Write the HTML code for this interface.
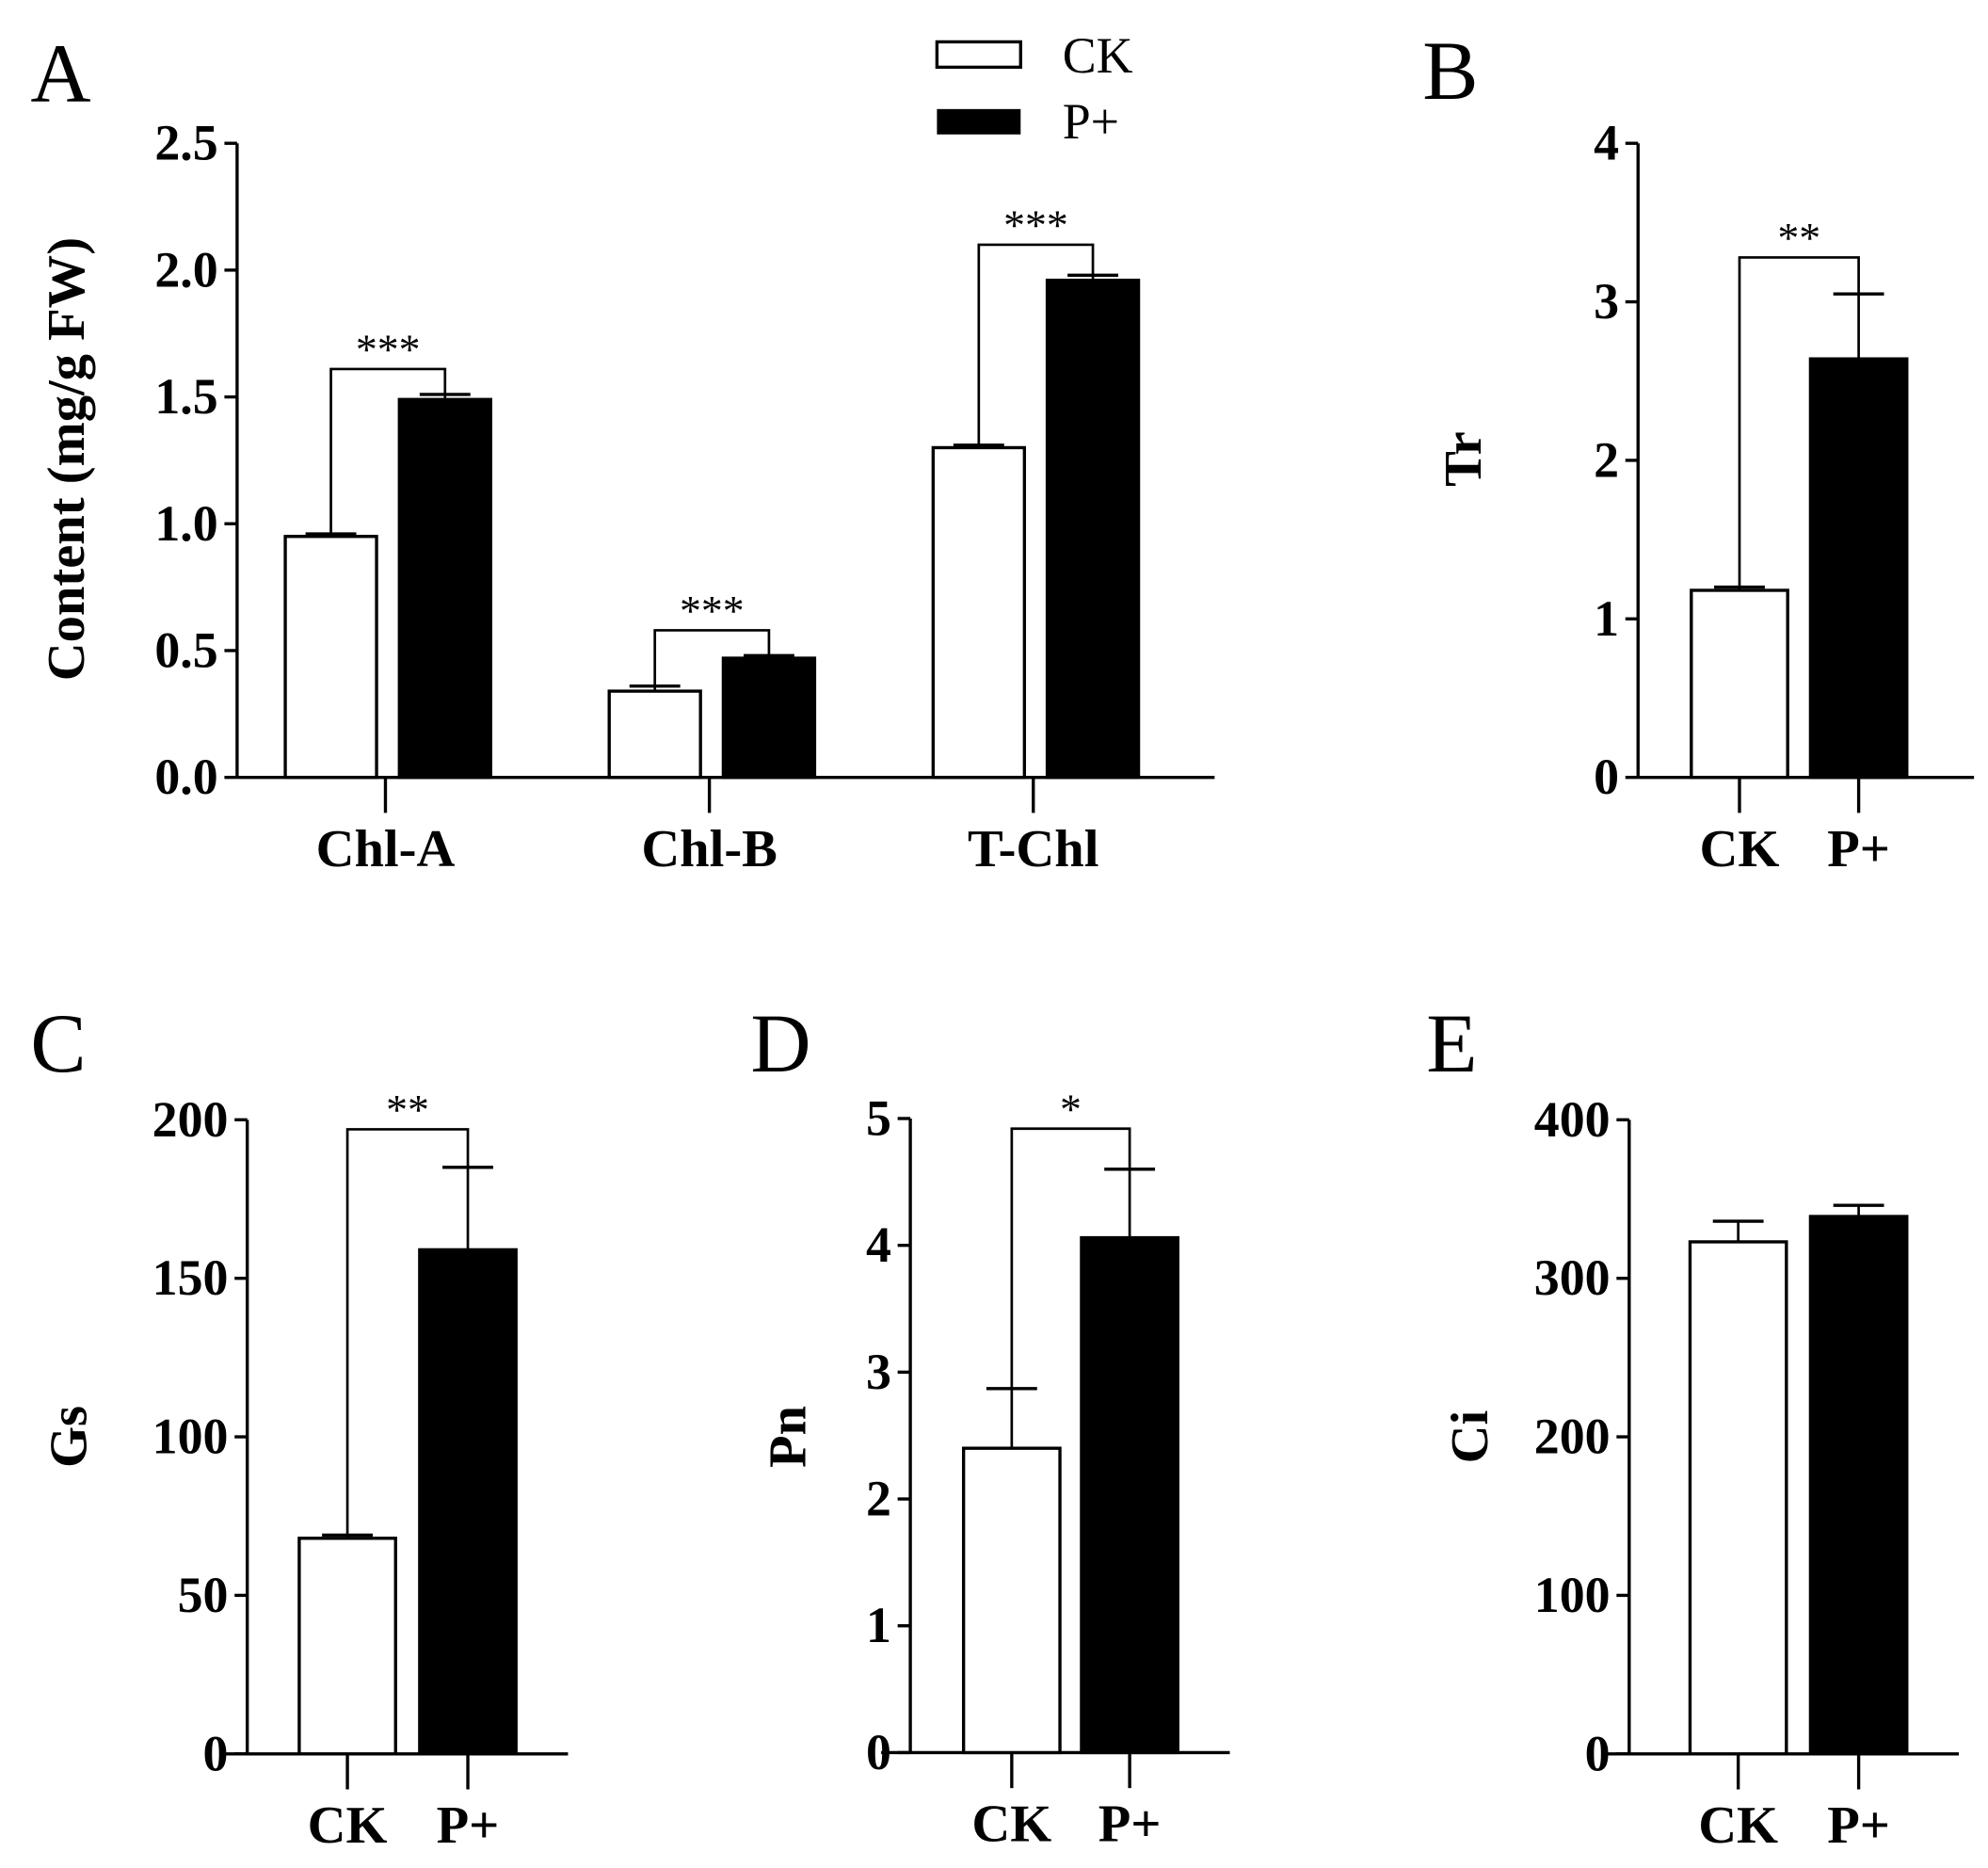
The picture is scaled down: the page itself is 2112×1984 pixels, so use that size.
<!DOCTYPE html>
<html><head><meta charset="utf-8"><style>
html,body{margin:0;padding:0;background:#fff;}
svg{display:block;}
text{font-family:"Liberation Serif","Times New Roman",serif;fill:#000;}
</style></head><body>
<svg id="fig" width="2112" height="1984" viewBox="0 0 1568 1473" xmlns="http://www.w3.org/2000/svg">
<text x="24" y="80" font-size="66">A</text>
<text x="1122" y="78" font-size="66">B</text>
<text x="24" y="845" font-size="66">C</text>
<text x="592" y="845" font-size="66">D</text>
<text x="1125" y="845" font-size="66">E</text>
<g>
<rect x="739" y="33" width="66" height="20" fill="#fff" stroke="#000" stroke-width="2.5"/>
<text x="838" y="57" font-size="40">CK</text>
<rect x="739" y="86" width="66" height="20" fill="#000"/>
<text x="838" y="109" font-size="40">P+</text>
</g>
</svg>
<script>
// Panel A data
const catsA = ['Chl-A','Chl-B','T-Chl'];
const ckA = [0.95, 0.34, 1.30];
const ckErrA = [0.01, 0.02, 0.01];
const pA = [1.49, 0.47, 1.96];
const pErrA = [0.02, 0.01, 0.02];
const sigA = ['***','***','***'];
const bracketA = [1.61, 0.58, 2.10];
const ticksA = ['0.0','0.5','1.0','1.5','2.0','2.5'];
// Panel B (Tr)
const valsB = [1.18, 2.64];
const errB = [0.02, 0.41];
const ticksB = ['0','1','2','3','4'];
// Panel C (Gs)
const valsC = [68, 159];
const errC = [1, 26];
const ticksC = ['0','50','100','150','200'];
// Panel D (Pn)
const valsD = [2.40, 4.06];
const errD = [0.47, 0.54];
const ticksD = ['0','1','2','3','4','5'];
// Panel E (Ci)
const valsE = [323, 339];
const errE = [13, 7];
const ticksE = ['0','100','200','300','400'];
const groups2 = ['CK','P+'];

const NS='http://www.w3.org/2000/svg';
const svg=document.getElementById('fig');
function mk(tag,attrs,parent){const e=document.createElementNS(NS,tag);for(const k in attrs)e.setAttribute(k,attrs[k]);(parent||svg).appendChild(e);return e;}
function txt(s,attrs,parent){const e=mk('text',attrs,parent);e.textContent=s;return e;}

function axes(g,o,ticks,title,id){
  const y=v=>o.y0-(v-o.min)/(o.max-o.min)*(o.y0-o.y1);
  let e=mk('line',{x1:o.ax,y1:o.y1,x2:o.ax,y2:o.y0,stroke:'#000','stroke-width':2.5},g);
  
  
  e=mk('line',{x1:o.xa0,y1:o.y0,x2:o.xa1,y2:o.y0,stroke:'#000','stroke-width':2.5},g);
  
  
  ticks.forEach(t=>{const v=parseFloat(t);const yy=y(v);
    e=mk('line',{x1:o.ax-10,y1:yy,x2:o.ax,y2:yy,stroke:'#000','stroke-width':2.5},g);
    
    
    e=txt(t,{x:o.ax-15,y:yy+13,'font-size':40,'font-weight':'bold','text-anchor':'end'},g);
    
    
  });
  e=txt(title,{x:0,y:0,'font-size':42,'font-weight':'bold','text-anchor':'middle',transform:`translate(${o.tx},${o.ty}) rotate(-90)`},g);
  
  
  return y;
}
function bar(g,x,w,y,v,err,fill,id){
  let e=mk('line',{x1:x+w/2,y1:y(v),x2:x+w/2,y2:y(v+err),stroke:'#000','stroke-width':2},g);
  
  
  e=mk('line',{x1:x+w/2-20,y1:y(v+err),x2:x+w/2+20,y2:y(v+err),stroke:'#000','stroke-width':2.5},g);
  
  
  e=mk('rect',{x:x,y:y(v),width:w,height:y(0)-y(v),fill:fill,stroke:'#000','stroke-width':2.5},g);
  
  
}
function bracket(g,x1,x2,yb,ya,ybr,stars,y,id){
  let e=mk('polyline',{points:`${x1},${y(ya)} ${x1},${y(ybr)} ${x2},${y(ybr)} ${x2},${y(yb)}`,fill:'none',stroke:'#000','stroke-width':2},g);
  
  
  e=txt(stars,{x:(x1+x2)/2,y:y(ybr)-4,'font-size':34,'text-anchor':'middle'},g);
  
  
}

// Panel A
(function(){
  const g=mk('g',{});
  
  
  const o={ax:187,y0:613,y1:113,min:0,max:2.5,xa0:187,xa1:958,tx:66,ty:362};
  const y=axes(g,o,ticksA,'Content (mg/g FW)','panel-a');
  const cx0=304,step=255.5,w=72;
  catsA.forEach((c,i)=>{const cx=cx0+i*step;
    let e=mk('line',{x1:cx,y1:613,x2:cx,y2:641,stroke:'#000','stroke-width':2.5},g);
    
    
    e=txt(c,{x:cx,y:683,'font-size':42,'font-weight':'bold','text-anchor':'middle'},g);
    
    
    const xck=cx-79,xp=cx+11;
    bar(g,xck,w,y,ckA[i],ckErrA[i],'#fff','bar-ck-'+c.toLowerCase());
    bar(g,xp,w,y,pA[i],pErrA[i],'#000','bar-p-'+c.toLowerCase());
    bracket(g,xck+w/2,xp+w/2,pA[i]+pErrA[i],ckA[i]+ckErrA[i],bracketA[i],sigA[i],y,'panel-a-'+c.toLowerCase());
  });
})();

function small(id,o,vals,errs,ticks,title,sig,brk){
  const g=mk('g',{});
  
  
  const y=axes(g,o,ticks,title,id);
  const w=76;
  const xs=[o.c1-38,o.c2-38];
  groups2.forEach((c,i)=>{const cx=i?o.c2:o.c1;
    let e=mk('line',{x1:cx,y1:o.y0,x2:cx,y2:o.y0+28,stroke:'#000','stroke-width':2.5},g);
    
    
    e=txt(c,{x:cx,y:o.y0+70,'font-size':42,'font-weight':'bold','text-anchor':'middle'},g);
    
    
    bar(g,xs[i],w,y,vals[i],errs[i],i?'#000':'#fff',id+'-bar-'+(i?'p':'ck'));
  });
  if(sig) bracket(g,o.c1,o.c2,vals[1]+errs[1],vals[0]+errs[0],brk,sig,y,id);
}
small('panel-b-tr',{ax:1292,y0:613,y1:113,min:0,max:4,xa0:1292,xa1:1557,tx:1168,ty:362,c1:1372,c2:1466},valsB,errB,ticksB,'Tr','**',3.28);
small('panel-c-gs',{ax:195,y0:1383,y1:883,min:0,max:200,xa0:175,xa1:448,tx:68,ty:1133,c1:274,c2:369},valsC,errC,ticksC,'Gs','**',197);
small('panel-d-pn',{ax:718,y0:1382,y1:882,min:0,max:5,xa0:695,xa1:970,tx:635,ty:1133,c1:798,c2:891},valsD,errD,ticksD,'Pn','*',4.92);
small('panel-e-ci',{ax:1285,y0:1383,y1:883,min:0,max:400,xa0:1265,xa1:1545,tx:1173,ty:1133,c1:1371,c2:1466},valsE,errE,ticksE,'Ci',null,0);
</script>
</body></html>
